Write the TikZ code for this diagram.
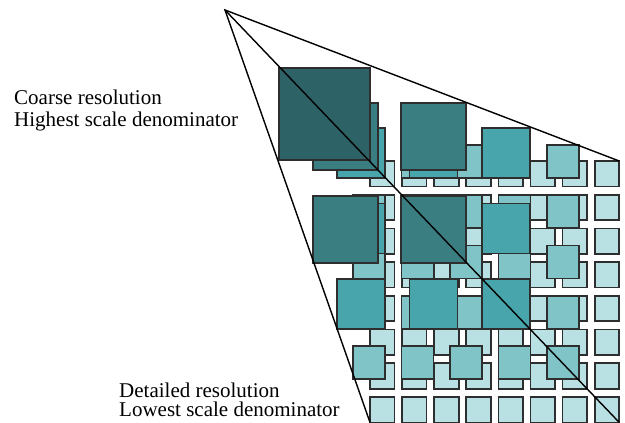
\documentclass[tikz,border=0pt]{standalone}
\usepackage{fontspec}
\setmainfont{Liberation Serif}
\definecolor{lvA}{HTML}{2D6266}
\definecolor{lvB}{HTML}{3A7E82}
\definecolor{lvC}{HTML}{47A5AB}
\definecolor{lvD}{HTML}{80C4C8}
\definecolor{lvE}{HTML}{B9E0E3}
\definecolor{tileedge}{HTML}{2E2E2E}
\begin{document}
\begin{tikzpicture}[x=1pt,y=-1pt,
  tile/.style={draw=tileedge, line width=1.7pt},
  ray/.style={draw=black, line width=1.4pt},
  lbl/.style={anchor=base west, inner sep=0pt, font=\fontsize{21}{24}\selectfont}]
\useasboundingbox (0,0) rectangle (625,423);
% level 4 : 8 x 8
\foreach \i in {0,...,7}{\foreach \j in {0,...,7}{
  \draw[tile, fill=lvE] ({370+\i*32.1},{161+\j*33.7}) rectangle ++(24.5,25.5);}}
% level 3 : 5 x 5
\foreach \i in {0,...,4}{\foreach \j in {0,...,4}{
  \draw[tile, fill=lvD] ({353+\i*48.5},{145+\j*50.3}) rectangle ++(32,33);}}
% level 2 : 3 x 3
\foreach \i in {0,...,2}{\foreach \j in {0,...,2}{
  \draw[tile, fill=lvC] ({337+\i*72.5},{128+\j*75.5}) rectangle ++(48,50);}}
% level 1 : 2 x 2
\foreach \i in {0,1}{\foreach \j in {0,1}{
  \draw[tile, fill=lvB] ({313+\i*88},{103+\j*93}) rectangle ++(65,67);}}
% level 0 : 1 x 1
\draw[tile, fill=lvA] (279,68) rectangle (370,160);
% rays from the apex
\coordinate (apex) at (225,10);
\coordinate (tr) at (619.2,161);
\coordinate (bl) at (370,422.4);
\coordinate (br) at (619.2,422.4);
\draw[ray] (tr) -- (apex) -- (bl);
\draw[ray] (apex) -- (br);
% labels
\node[lbl] (c1) at (14,104) {Coarse resolution};
\node[lbl] (c2) at (14,126) {Highest scale denominator};
\node[lbl] (d1) at (119,397) {Detailed resolution};
\node[lbl] (d2) at (119,416) {Lowest scale denominator};
\end{tikzpicture}
\end{document}
